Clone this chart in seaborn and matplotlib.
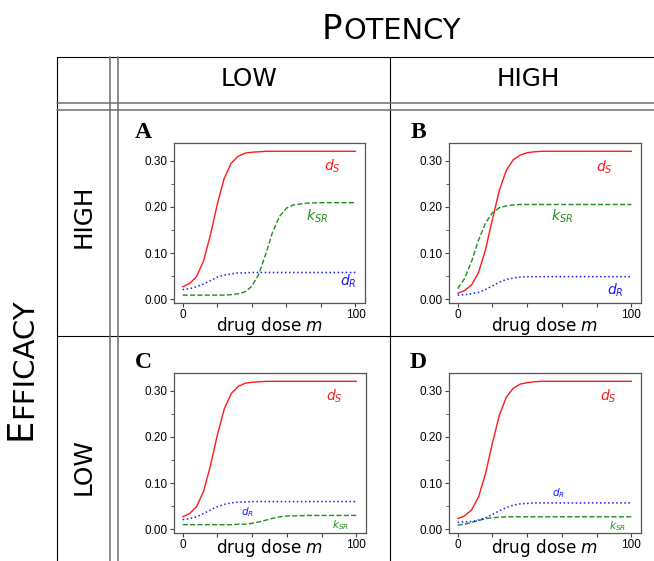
import numpy as np
import pandas as pd
import matplotlib
matplotlib.use("Agg")
import matplotlib.pyplot as plt
import seaborn as sns
from matplotlib.lines import Line2D
from matplotlib.ticker import MultipleLocator

# drug dose grid shared by all four panels
dose = [0, 4, 8, 12, 16, 20, 24, 28, 32, 36, 40, 44, 48, 52, 56, 60, 64, 72, 80, 90, 100]

# A: low potency / high efficacy
dS_A = [0.027, 0.034, 0.049, 0.082, 0.138, 0.205, 0.261, 0.294, 0.309, 0.316, 0.318, 0.319, 0.320,
        0.320, 0.320, 0.320, 0.320, 0.320, 0.320, 0.320, 0.320]
kSR_A = [0.009, 0.009, 0.009, 0.009, 0.009, 0.009, 0.009, 0.010, 0.012, 0.016, 0.028, 0.054, 0.097,
         0.145, 0.179, 0.197, 0.204, 0.208, 0.209, 0.209, 0.209]
dR_A = [0.021, 0.023, 0.027, 0.033, 0.040, 0.048, 0.052, 0.055, 0.057, 0.057, 0.058, 0.058, 0.058,
        0.058, 0.058, 0.058, 0.058, 0.058, 0.058, 0.058, 0.058]

# B: high potency / high efficacy
dS_B = [0.013, 0.019, 0.031, 0.058, 0.107, 0.173, 0.236, 0.279, 0.302, 0.312, 0.317, 0.319, 0.320,
        0.320, 0.320, 0.320, 0.320, 0.320, 0.320, 0.320, 0.320]
kSR_B = [0.023, 0.045, 0.082, 0.128, 0.165, 0.187, 0.198, 0.202, 0.204, 0.205, 0.205, 0.205, 0.205,
         0.205, 0.205, 0.205, 0.205, 0.205, 0.205, 0.205, 0.205]
dR_B = [0.009, 0.010, 0.012, 0.015, 0.021, 0.029, 0.037, 0.043, 0.046, 0.048, 0.049, 0.049, 0.049,
        0.049, 0.049, 0.049, 0.049, 0.049, 0.049, 0.049, 0.049]

# C: low potency / low efficacy
dS_C = [0.027, 0.034, 0.049, 0.082, 0.138, 0.205, 0.261, 0.294, 0.309, 0.316, 0.318, 0.319, 0.320,
        0.320, 0.320, 0.320, 0.320, 0.320, 0.320, 0.320, 0.320]
kSR_C = [0.010, 0.010, 0.010, 0.010, 0.010, 0.010, 0.010, 0.010, 0.011, 0.011, 0.013, 0.016, 0.020,
         0.024, 0.027, 0.029, 0.029, 0.030, 0.030, 0.030, 0.030]
dR_C = [0.021, 0.023, 0.027, 0.034, 0.042, 0.049, 0.054, 0.057, 0.059, 0.059, 0.060, 0.060, 0.060,
        0.060, 0.060, 0.060, 0.060, 0.060, 0.060, 0.060, 0.060]

# D: high potency / low efficacy
dS_D = [0.023, 0.029, 0.042, 0.070, 0.120, 0.187, 0.247, 0.286, 0.305, 0.314, 0.317, 0.319, 0.320,
        0.320, 0.320, 0.320, 0.320, 0.320, 0.320, 0.320, 0.320]
kSR_D = [0.009, 0.011, 0.015, 0.019, 0.023, 0.025, 0.026, 0.027, 0.027, 0.027, 0.027, 0.027, 0.027,
         0.027, 0.027, 0.027, 0.027, 0.027, 0.027, 0.027, 0.027]
dR_D = [0.015, 0.016, 0.017, 0.020, 0.025, 0.032, 0.040, 0.047, 0.052, 0.055, 0.056, 0.057, 0.057,
        0.057, 0.057, 0.057, 0.057, 0.057, 0.057, 0.057, 0.057]

panel_letters = ["A", "B", "C", "D"]
ytick_vals = [0.0, 0.1, 0.2, 0.3]
ytick_labels = ["0.00", "0.10", "0.20", "0.30"]
xtick_vals = [0, 20, 40, 60, 80, 100]
xtick_labels = ["0", "", "", "", "", "100"]

sns.set_style("ticks")
plt.rcParams["font.family"] = ["DejaVu Sans"]
plt.rcParams["mathtext.fontset"] = "dejavusans"
plt.rcParams["text.color"] = "black"
plt.rcParams["axes.labelcolor"] = "black"

W, H = 654, 561
fig = plt.figure(figsize=(W / 100, H / 100), dpi=100)


def box(left, top, w, h):
    return [left / W, 1 - (top + h) / H, w / W, h / H]


def hline(y, x0, x1, **kw):
    fig.add_artist(Line2D([x0 / W, x1 / W], [1 - y / H, 1 - y / H],
                          transform=fig.transFigure, **kw))


def vline(x, y0, y1, **kw):
    fig.add_artist(Line2D([x / W, x / W], [1 - y0 / H, 1 - y1 / H],
                          transform=fig.transFigure, **kw))


# table grid
thin = dict(color="black", lw=0.8)
dbl = dict(color="#6e6e6e", lw=1.1)
hline(56.5, 57, 654, **thin)
vline(57, 56.5, 561, **thin)
vline(390.5, 56.5, 561, **thin)
hline(336, 57, 654, **thin)
vline(110, 56.5, 561, **dbl)
vline(118, 56.5, 561, **dbl)
hline(103, 57, 654, **dbl)
hline(110, 57, 654, **dbl)

# headers (small caps done with two sizes)
fig.text(322 / W, 1 - 39 / H, "P", fontsize=24.5, ha="left", va="baseline")
fig.text(343 / W, 1 - 39 / H, "OTENCY", fontsize=20.8, ha="left", va="baseline")
fig.text(249 / W, 1 - 79 / H, "LOW", fontsize=17.8, ha="center", va="center")
fig.text(528 / W, 1 - 79 / H, "HIGH", fontsize=17.8, ha="center", va="center")

fig.text(38 / W, 1 - 440 / H, "E", fontsize=25.5, rotation=90, ha="right", va="bottom")
fig.text(38 / W, 1 - 418 / H, "FFICACY", fontsize=21, rotation=90, ha="right", va="bottom")
fig.text(84 / W, 1 - 216 / H, "HIGH", fontsize=17.8, rotation=90, ha="center", va="center")
fig.text(84 / W, 1 - 467 / H, "LOW", fontsize=17.8, rotation=90, ha="center", va="center")

red, green, blue = "#ff1a1a", "#1f8c1f", "#1a1aff"

panels = [
    (box(174, 143, 191, 160), (143, 133), -0.075, dS_A, kSR_A, dR_A,
     [(86.5, 0.288, 10), (77.8, 0.180, 10), (95.6, 0.040, 10)]),
    (box(449, 143, 192, 160), (418, 133), -0.075, dS_B, kSR_B, dR_B,
     [(84.4, 0.286, 10), (60.0, 0.180, 10), (91.0, 0.020, 10)]),
    (box(174, 373, 192, 160), (143, 363), -0.022, dS_C, kSR_C, dR_C,
     [(87.0, 0.288, 10), (91.0, 0.009, 7.5), (37.0, 0.037, 7.5)]),
    (box(449, 373, 192, 160), (418, 363), -0.022, dS_D, kSR_D, dR_D,
     [(86.6, 0.288, 10), (92.0, 0.007, 7.5), (58.0, 0.078, 7.5)]),
]

for letter, (rect, lpos, xlab_y, dS, kSR, dR, labs) in zip(panel_letters, panels):
    ax = fig.add_axes(rect)
    sns.lineplot(x=dose, y=dS, ax=ax, color=red, lw=1.0)
    sns.lineplot(x=dose, y=kSR, ax=ax, color=green, lw=1.0, linestyle="--")
    sns.lineplot(x=dose, y=dR, ax=ax, color=blue, lw=1.1, linestyle=":")

    ax.set_xlim(-5, 105.5)
    ax.set_ylim(-0.008, 0.338)
    ax.set_xticks(xtick_vals, xtick_labels, fontfamily="Liberation Sans", fontsize=8.5)
    ax.set_yticks(ytick_vals, ytick_labels, fontfamily="Liberation Sans", fontsize=8.5)
    ax.yaxis.set_minor_locator(MultipleLocator(0.05))
    ax.tick_params(which="major", direction="out", length=3, width=0.8, color="#444444",
                   labelcolor="black", pad=1.5)
    ax.tick_params(which="minor", direction="out", length=2, width=0.6, color="#444444")
    for sp in ax.spines.values():
        sp.set_color("#555555")
        sp.set_linewidth(0.9)
    ax.set_xlabel("drug dose $m$", fontsize=12.2)
    ax.xaxis.set_label_coords(0.5, xlab_y)

    (xs, ys, fs), (xk, yk, fk), (xr, yr, fr) = labs
    ax.text(xs, ys, "$d_S$", color=red, fontsize=fs, ha="center", va="center")
    ax.text(xk, yk, "$k_{SR}$", color=green, fontsize=fk, ha="center", va="center")
    ax.text(xr, yr, "$d_R$", color=blue, fontsize=fr, ha="center", va="center")

    fig.text(lpos[0] / W, 1 - lpos[1] / H, letter, fontfamily="Liberation Serif",
             fontweight="bold", fontsize=17, ha="center", va="center")

fig.savefig("out.png", dpi=100)
